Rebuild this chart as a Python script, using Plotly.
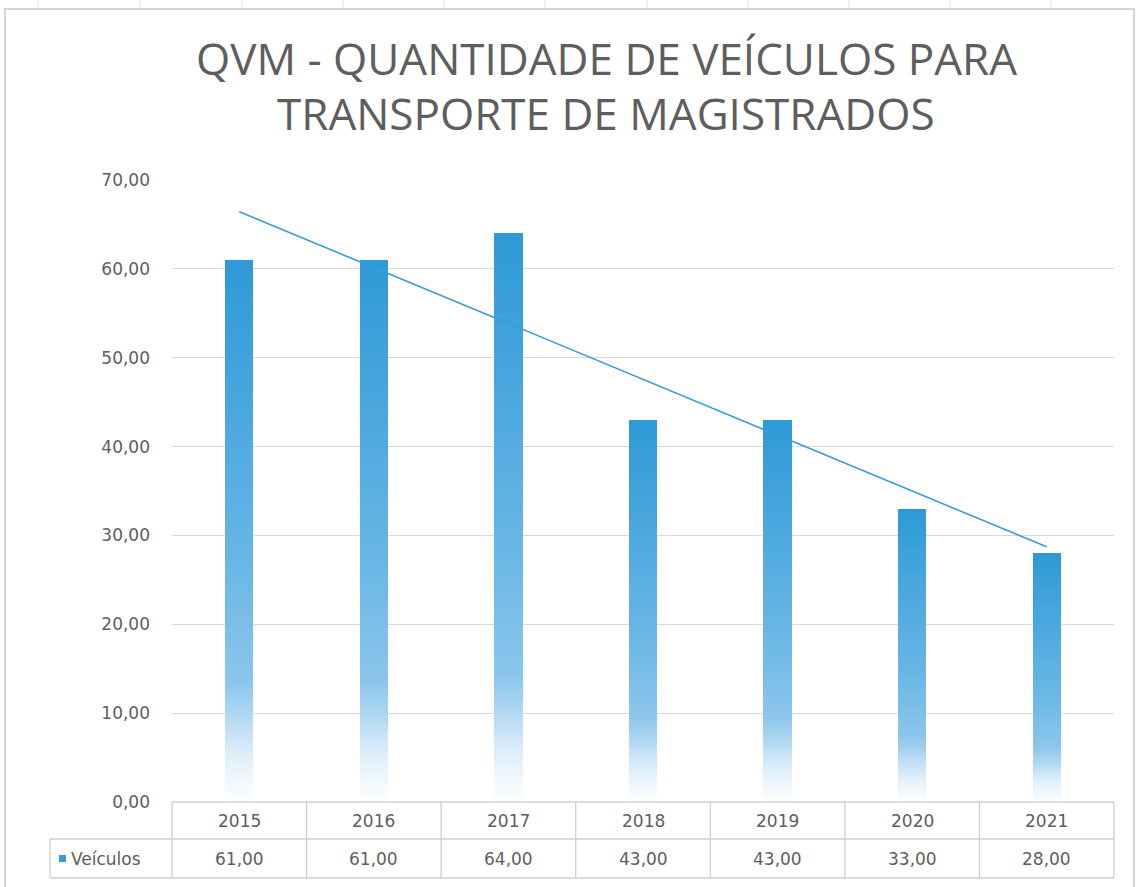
import numpy as np
import plotly.graph_objects as go

# ---- data ----
years = ["2015", "2016", "2017", "2018", "2019", "2020", "2021"]
veiculos = [61, 61, 64, 43, 43, 33, 28]
value_labels = ["61,00", "61,00", "64,00", "43,00", "43,00", "33,00", "28,00"]
series_name = "Veículos"
title_lines = ["QVM - QUANTIDADE DE VEÍCULOS PARA", "TRANSPORTE DE MAGISTRADOS"]
y_ticks = [0, 10, 20, 30, 40, 50, 60, 70]

# ---- layout geometry (pixels) ----
FW, FH = 1140, 887
L, R, T, B = 172, 26, 180, 85
PW, PH = FW - L - R, FH - T - B
PLOT_BOTTOM = FH - B


def px(x):
    return (x - L) / PW


def py(y):
    return (PLOT_BOTTOM - y) / PH


def cat_px(i, n):
    return L + (i + 0.5) * PW / n


GRAY_TXT = "#5E5E5E"
GRID = "#D9D9D9"
TBL = "#D0D0D0"
FONT = "DejaVu Sans"

fig = go.Figure()

# gradient bars: stacked thin segments, colour interpolated bottom(white)->top(blue)
stops = [(0.0, (255, 255, 255)), (0.08, (226, 240, 250)), (0.22, (140, 198, 236)),
         (0.45, (104, 182, 229)), (0.75, (72, 166, 222)), (1.0, (46, 154, 214))]


def grad(t):
    for (t0, c0), (t1, c1) in zip(stops[:-1], stops[1:]):
        if t <= t1:
            f = (t - t0) / (t1 - t0)
            return "rgb(%d,%d,%d)" % tuple(round(a + (b - a) * f) for a, b in zip(c0, c1))
    return "rgb(%d,%d,%d)" % stops[-1][1]


N = 120
for k in range(N):
    fig.add_trace(go.Bar(
        x=years, y=[v / N for v in veiculos],
        marker=dict(color=grad((k + 0.5) / N), line=dict(width=0)),
        showlegend=False, hoverinfo="skip",
    ))

# linear trendline (computed from the data, as Excel does)
idx = np.arange(len(veiculos))
slope, inter = np.polyfit(idx, veiculos, 1)
fig.add_trace(go.Scatter(
    x=years, y=slope * idx + inter, mode="lines",
    line=dict(color="#3A9BD8", width=1.6), showlegend=False, hoverinfo="skip",
))

shapes = []
annotations = []

# chart frame
shapes.append(dict(type="rect", xref="paper", yref="paper",
                   x0=px(5), x1=px(1134), y0=py(895), y1=py(9),
                   line=dict(color="#D4D4D4", width=2), layer="below"))
# spreadsheet cell lines above frame
for gx in [38, 140, 242, 343, 444, 545, 647, 748, 849, 950, 1051]:
    shapes.append(dict(type="line", xref="paper", yref="paper",
                       x0=px(gx), x1=px(gx), y0=py(0), y1=py(8),
                       line=dict(color="#E2E2E2", width=1)))

# data table
n = len(years)
tbl_top, tbl_mid, tbl_bot = PLOT_BOTTOM, 839, 878
tbl_left, key_left, tbl_right = L, 50, L + PW
line_style = dict(color=TBL, width=1.3)
shapes.append(dict(type="line", xref="paper", yref="paper", x0=px(tbl_left), x1=px(tbl_right),
                   y0=py(tbl_top), y1=py(tbl_top), line=line_style))
shapes.append(dict(type="line", xref="paper", yref="paper", x0=px(key_left), x1=px(tbl_right),
                   y0=py(tbl_mid), y1=py(tbl_mid), line=line_style))
shapes.append(dict(type="line", xref="paper", yref="paper", x0=px(key_left), x1=px(tbl_right),
                   y0=py(tbl_bot), y1=py(tbl_bot), line=line_style))
shapes.append(dict(type="line", xref="paper", yref="paper", x0=px(key_left), x1=px(key_left),
                   y0=py(tbl_mid), y1=py(tbl_bot), line=line_style))
for i in range(n + 1):
    xb = L + i * PW / n
    shapes.append(dict(type="line", xref="paper", yref="paper", x0=px(xb), x1=px(xb),
                       y0=py(tbl_top), y1=py(tbl_bot), line=line_style))
for i in range(n):
    cx = px(cat_px(i, n))
    annotations.append(dict(x=cx, y=py((tbl_top + tbl_mid) / 2), xref="paper", yref="paper",
                            xanchor="center", yanchor="middle",
                            text=years[i], showarrow=False,
                            font=dict(family=FONT, size=17, color=GRAY_TXT)))
    annotations.append(dict(x=cx, y=py((tbl_mid + tbl_bot) / 2), xref="paper", yref="paper",
                            xanchor="center", yanchor="middle",
                            text=value_labels[i], showarrow=False,
                            font=dict(family=FONT, size=17, color=GRAY_TXT)))
# legend key
shapes.append(dict(type="rect", xref="paper", yref="paper", x0=px(59), x1=px(66),
                   y0=py(862), y1=py(855), fillcolor="#3A9BD8", line=dict(width=0)))
annotations.append(dict(x=px(69), y=py((tbl_mid + tbl_bot) / 2), xref="paper", yref="paper",
                        xanchor="left", yanchor="middle", text=series_name, showarrow=False,
                        font=dict(family=FONT, size=17, color=GRAY_TXT)))

# title
annotations.append(dict(x=px(606), y=py(90), xref="paper", yref="paper",
                        xanchor="center", yanchor="bottom",
                        text=title_lines[0], showarrow=False,
                        font=dict(family="Open Sans", size=44, color=GRAY_TXT)))
annotations.append(dict(x=px(606), y=py(145), xref="paper", yref="paper",
                        xanchor="center", yanchor="bottom",
                        text=title_lines[1], showarrow=False,
                        font=dict(family="Open Sans", size=44, color=GRAY_TXT)))

fig.update_layout(
    width=FW, height=FH,
    margin=dict(l=L, r=R, t=T, b=B),
    paper_bgcolor="white", plot_bgcolor="white",
    barmode="stack", bargap=0.79,
    separators=",.",
    showlegend=False,
    shapes=shapes, annotations=annotations,
    xaxis=dict(type="category", showticklabels=False, showgrid=False, zeroline=False,
               showline=False, ticks="", range=[-0.5, n - 0.5]),
    yaxis=dict(range=[0, 70], tickvals=y_ticks, tickformat=".2f",
               showgrid=True, gridcolor=GRID, gridwidth=1.3, zeroline=False, showline=False,
               ticks="", ticklabelstandoff=21,
               tickfont=dict(family=FONT, size=17, color=GRAY_TXT)),
)

fig.write_html("out.html", config={"displayModeBar": False},
               post_script="document.body.style.margin='0px';")
